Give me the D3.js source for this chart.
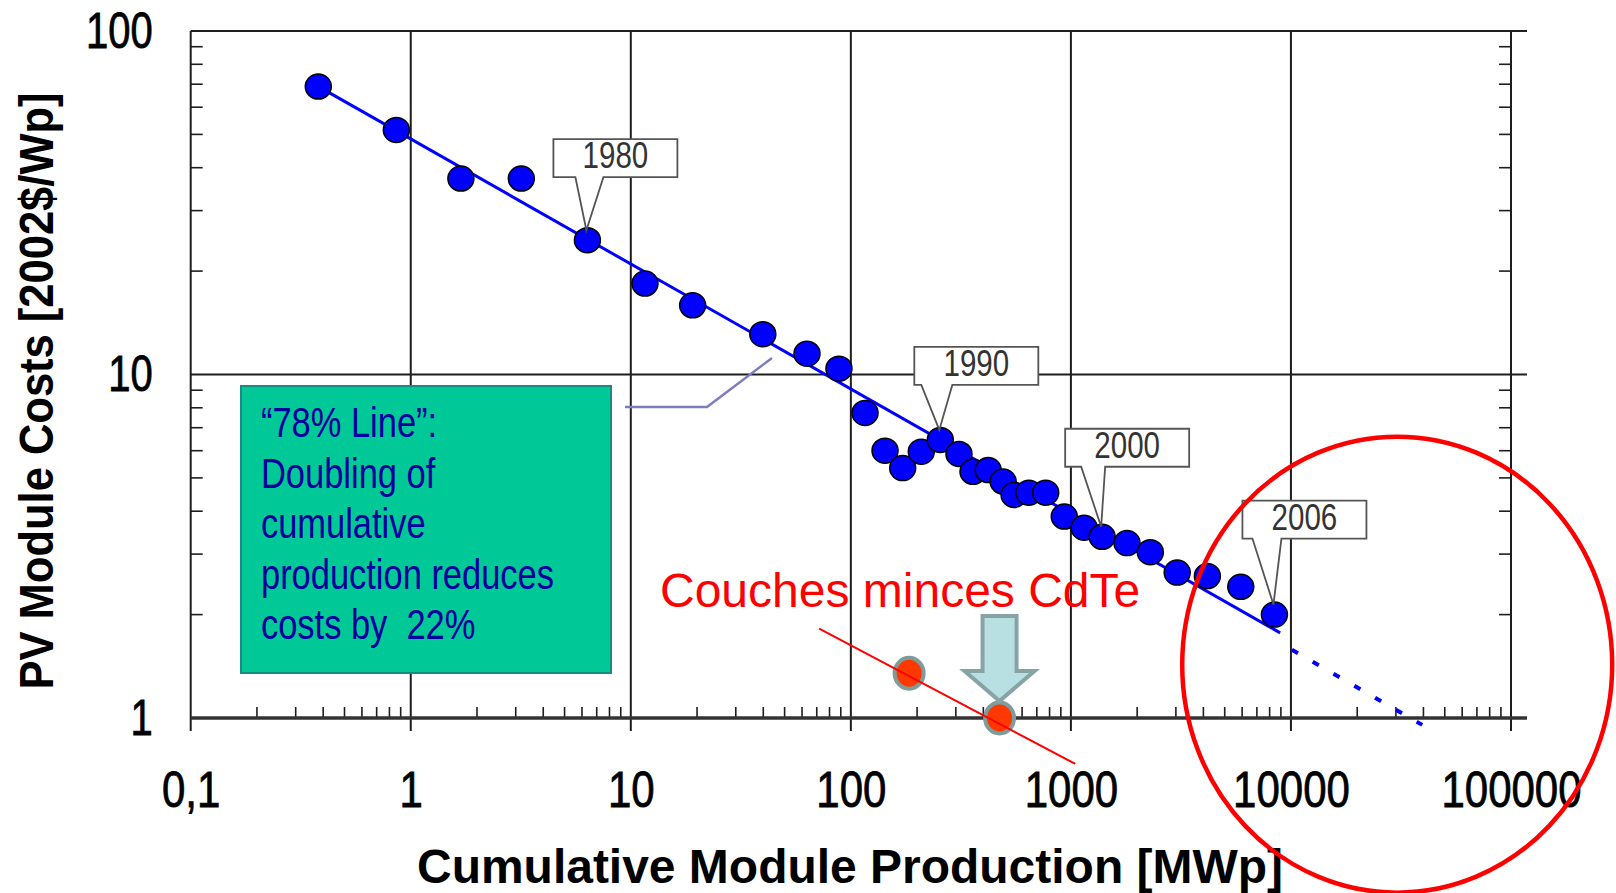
<!DOCTYPE html>
<html>
<head>
<meta charset="utf-8">
<script src="https://cdn.jsdelivr.net/npm/d3@7"></script>
<style>
body { margin: 0; background: #fff; }
text { font-family: 'Liberation Sans', Arial, sans-serif; }
</style>
</head>
<body>
<svg width="1616" height="893"></svg>
<script>
// cumulative module production [MWp] and module cost [2002$/Wp], one point per year
var production = [0.38, 0.86, 1.69, 3.18, 6.35, 11.6, 19.1, 39.8, 63.2, 88.3,
    116, 143, 172, 209, 255, 310, 359, 421, 492, 552,
    644, 768, 933, 1148, 1387, 1799, 2296, 3041, 4170, 5915, 8413];
var cost = [68.9, 51.5, 37.2, 37.2, 24.6, 18.4, 15.9, 13.1, 11.5, 10.4,
    7.73, 6.0, 5.34, 5.96, 6.45, 5.87, 5.21, 5.27, 4.88, 4.46,
    4.53, 4.53, 3.86, 3.58, 3.37, 3.23, 3.04, 2.65, 2.59, 2.41, 2.0];

// year callouts and the index of the point they point at
var yearLabels = ['1980', '1990', '2000', '2006'];
var yearPoint = [4, 14, 24, 30];

// 78% learning line and its dotted extension
var trendX = [0.381, 8930];
var trendY = [68.9, 1.77];
var forecastX = [10100, 39500];
var forecastY = [1.58, 0.955];

// thin film CdTe
var cdteX = [184, 474];
var cdteY = [1.35, 1.0];
var cdteLineX = [71.8, 1047];
var cdteLineY = [1.82, 0.735];

// circled forecast region (centre)
var circleX = 30400;
var circleY = 1.43;

var xTickValues = [0.1, 1, 10, 100, 1000, 10000, 100000];
var xTickLabels = ['0,1', '1', '10', '100', '1000', '10000', '100000'];
var yTickValues = [1, 10, 100];
var yTickLabels = ['1', '10', '100'];

var noteLines = ['\u201c78% Line\u201d:', 'Doubling of', 'cumulative', 'production reduces', 'costs by  22%'];

var svg = d3.select('svg');

var plot = {l: 190.7, r: 1511, t: 31, b: 718};

var xScale = d3.scaleLog().domain([0.1, 100000]).range([plot.l, plot.r]);
var yScale = d3.scaleLog().domain([1, 100]).range([plot.b, plot.t]);

// squeeze text to look like a narrow face
function narrow(sel, f) {
    sel.each(function() {
        var w = this.getComputedTextLength();
        d3.select(this)
            .attr('textLength', w * f)
            .attr('lengthAdjust', 'spacingAndGlyphs');
    });
}

svg.append('rect').attr('width', 1616).attr('height', 893).attr('fill', '#fff');

// grid and frame
var grid = svg.append('g').attr('stroke', '#1e1e1e').attr('stroke-width', 2);

grid.selectAll('.vgrid')
    .data(xTickValues)
    .enter().append('line')
    .attr('class', 'vgrid')
    .attr('x1', function(d) { return xScale(d); })
    .attr('x2', function(d) { return xScale(d); })
    .attr('y1', plot.t)
    .attr('y2', plot.b + 13);

grid.selectAll('.hgrid')
    .data([10, 100])
    .enter().append('line')
    .attr('class', 'hgrid')
    .attr('x1', plot.l)
    .attr('x2', plot.r + 16)
    .attr('y1', function(d) { return yScale(d); })
    .attr('y2', function(d) { return yScale(d); });

// minor ticks
var xMinor = xScale.ticks().filter(function(d) { return xTickValues.indexOf(d) < 0; });
var yMinor = yScale.ticks().filter(function(d) { return yTickValues.indexOf(d) < 0; });

grid.selectAll('.xminor')
    .data(xMinor)
    .enter().append('line')
    .attr('class', 'xminor')
    .attr('stroke-width', 1.6)
    .attr('x1', function(d) { return xScale(d); })
    .attr('x2', function(d) { return xScale(d); })
    .attr('y1', plot.b)
    .attr('y2', plot.b - 11);

grid.selectAll('.yminorL')
    .data(yMinor)
    .enter().append('line')
    .attr('class', 'yminorL')
    .attr('stroke-width', 1.6)
    .attr('x1', plot.l)
    .attr('x2', plot.l + 12)
    .attr('y1', function(d) { return yScale(d); })
    .attr('y2', function(d) { return yScale(d); });

grid.selectAll('.yminorR')
    .data(yMinor)
    .enter().append('line')
    .attr('class', 'yminorR')
    .attr('stroke-width', 1.6)
    .attr('x1', plot.r)
    .attr('x2', plot.r - 12)
    .attr('y1', function(d) { return yScale(d); })
    .attr('y2', function(d) { return yScale(d); });

// bottom axis line, heavier
svg.append('line')
    .attr('x1', plot.l).attr('x2', plot.r + 16)
    .attr('y1', plot.b).attr('y2', plot.b)
    .attr('stroke', '#333').attr('stroke-width', 3.5);

// axes labels
var xAxis = d3.axisBottom(xScale)
    .tickValues(xTickValues)
    .tickFormat(function(d, i) { return xTickLabels[i]; })
    .tickSize(0);

var xAxisG = svg.append('g')
    .attr('transform', 'translate(0,' + plot.b + ')')
    .call(xAxis);
xAxisG.select('.domain').remove();
xAxisG.selectAll('text')
    .attr('y', 89).attr('dy', 0)
    .attr('fill', '#000')
    .attr('stroke', '#000').attr('stroke-width', 0.8)
    .style('font-family', "'Liberation Sans', Arial, sans-serif")
    .style('font-size', '50px')
    .call(narrow, 0.84);

var yAxis = d3.axisLeft(yScale)
    .tickValues(yTickValues)
    .tickFormat(function(d, i) { return yTickLabels[i]; })
    .tickSize(0)
    .tickPadding(38);

var yAxisG = svg.append('g')
    .attr('transform', 'translate(' + plot.l + ',0)')
    .call(yAxis);
yAxisG.select('.domain').remove();
yAxisG.selectAll('text')
    .attr('fill', '#000')
    .attr('stroke', '#000').attr('stroke-width', 0.8)
    .style('font-family', "'Liberation Sans', Arial, sans-serif")
    .style('font-size', '50px')
    .call(narrow, 0.8);

svg.append('text')
    .attr('x', 850).attr('y', 883)
    .attr('text-anchor', 'middle')
    .attr('textLength', 866).attr('lengthAdjust', 'spacingAndGlyphs')
    .style('font-weight', 'bold')
    .style('font-size', '48px')
    .text('Cumulative Module Production [MWp]');

svg.append('text')
    .attr('transform', 'translate(53,391) rotate(-90)')
    .attr('text-anchor', 'middle')
    .attr('textLength', 597).attr('lengthAdjust', 'spacingAndGlyphs')
    .style('font-weight', 'bold')
    .style('font-size', '48px')
    .text('PV Module Costs [2002$/Wp]');

// note box
var note = {x: 241, y: 386, w: 370, h: 287};
svg.append('rect')
    .attr('x', note.x).attr('y', note.y)
    .attr('width', note.w).attr('height', note.h)
    .attr('fill', '#00c897')
    .attr('stroke', '#1b8a86').attr('stroke-width', 2);

svg.selectAll('.note-line')
    .data(noteLines)
    .enter().append('text')
    .attr('class', 'note-line')
    .attr('x', note.x + 20)
    .attr('y', function(d, i) { return 437 + i * 50.5; })
    .attr('fill', '#00009c')
    .style('font-size', '42px')
    .style('white-space', 'pre')
    .text(function(d) { return d; })
    .call(narrow, 0.82);

svg.append('path')
    .attr('d', 'M625,407 L707,407 L772,358')
    .attr('fill', 'none')
    .attr('stroke', '#7c7cc0')
    .attr('stroke-width', 2.5);

// learning curve
var line = d3.line()
    .x(function(d) { return xScale(d[0]); })
    .y(function(d) { return yScale(d[1]); });

svg.append('path')
    .datum(d3.zip(trendX, trendY))
    .attr('d', line)
    .attr('fill', 'none')
    .attr('stroke', '#0000ff')
    .attr('stroke-width', 3);

svg.append('path')
    .datum(d3.zip(forecastX, forecastY))
    .attr('d', line)
    .attr('fill', 'none')
    .attr('stroke', '#0000ff')
    .attr('stroke-width', 4)
    .attr('stroke-dasharray', '7,17');

svg.selectAll('.pt')
    .data(d3.zip(production, cost))
    .enter().append('ellipse')
    .attr('class', 'pt')
    .attr('cx', function(d) { return xScale(d[0]); })
    .attr('cy', function(d) { return yScale(d[1]); })
    .attr('rx', 13)
    .attr('ry', 12.5)
    .attr('fill', '#0000ff')
    .attr('stroke', '#000')
    .attr('stroke-width', 1.5);

// year callouts
var boxOffset = [[-34, -101], [-26, -93], [-37, -108], [-32, -114]];
var baseOffset = [[22, 50], [7, 38], [16, 40], [10, 39]];
var boxW = 124, boxH = 38;

yearLabels.forEach(function(label, i) {
    var px = xScale(production[yearPoint[i]]);
    var py = yScale(cost[yearPoint[i]]);
    var bx = px + boxOffset[i][0];
    var by = py + boxOffset[i][1];
    var b0 = bx + baseOffset[i][0], b1 = bx + baseOffset[i][1];
    var path = 'M' + bx + ',' + by + ' L' + (bx + boxW) + ',' + by +
        ' L' + (bx + boxW) + ',' + (by + boxH) + ' L' + b1 + ',' + (by + boxH) +
        ' L' + (px - 1) + ',' + (py - 10) + ' L' + b0 + ',' + (by + boxH) +
        ' L' + bx + ',' + (by + boxH) + ' Z';
    svg.append('path')
        .attr('d', path)
        .attr('fill', '#fff')
        .attr('stroke', '#555')
        .attr('stroke-width', 1.8);
    svg.append('text')
        .attr('x', bx + boxW / 2)
        .attr('y', by + 29)
        .attr('text-anchor', 'middle')
        .attr('fill', '#333')
        .style('font-size', '36px')
        .text(label)
        .call(narrow, 0.82);
});

// thin film CdTe
svg.append('text')
    .attr('x', 660).attr('y', 607)
    .attr('fill', '#ff0000')
    .style('font-size', '48px')
    .text('Couches minces CdTe');

svg.selectAll('.cdte')
    .data(d3.zip(cdteX, cdteY))
    .enter().append('ellipse')
    .attr('class', 'cdte')
    .attr('cx', function(d) { return xScale(d[0]); })
    .attr('cy', function(d) { return yScale(d[1]); })
    .attr('rx', 14.5)
    .attr('ry', 15.5)
    .attr('fill', '#ff3800')
    .attr('stroke', '#7f9c9c')
    .attr('stroke-width', 4);

svg.append('path')
    .datum(d3.zip(cdteLineX, cdteLineY))
    .attr('d', line)
    .attr('fill', 'none')
    .attr('stroke', '#ff0000')
    .attr('stroke-width', 2);

// down arrow onto the second CdTe point
var ax = xScale(cdteX[1]);
var ay = yScale(cdteY[1]) - 17;
svg.append('path')
    .attr('d', 'M' + (ax - 17) + ',' + (ay - 85) + ' L' + (ax + 17) + ',' + (ay - 85) +
        ' L' + (ax + 17) + ',' + (ay - 30) + ' L' + (ax + 35) + ',' + (ay - 30) +
        ' L' + ax + ',' + ay + ' L' + (ax - 35) + ',' + (ay - 30) +
        ' L' + (ax - 17) + ',' + (ay - 30) + ' Z')
    .attr('fill', '#b8e0e2')
    .attr('stroke', '#87a3a5')
    .attr('stroke-width', 4)
    .attr('stroke-linejoin', 'miter');

// red circle round the forecast
svg.append('ellipse')
    .attr('cx', xScale(circleX))
    .attr('cy', yScale(circleY))
    .attr('rx', 215)
    .attr('ry', 228)
    .attr('fill', 'none')
    .attr('stroke', '#ff0000')
    .attr('stroke-width', 4.5);
</script>
</body>
</html>
